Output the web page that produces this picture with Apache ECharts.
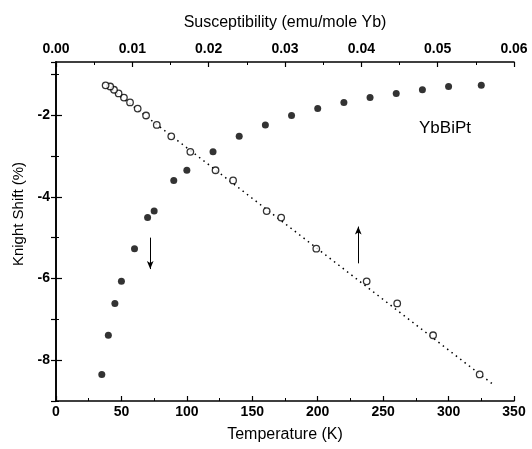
<!DOCTYPE html>
<html>
<head>
<meta charset="utf-8">
<script src="https://cdn.jsdelivr.net/npm/echarts@6/dist/echarts.min.js"></script>
<style>
  html, body { margin: 0; padding: 0; background: #fff; }
  #chart { width: 532px; height: 449px; }
</style>
</head>
<body>
<div id="chart"></div>
<script>
// measured temperatures (K) and Knight shift (%)
const temperature = [35, 40, 45, 50, 60, 70, 75, 90, 100, 120, 140, 160, 180, 200, 220, 240, 260, 280, 300, 325];
const knightShift = [-8.35, -7.39, -6.61, -6.07, -5.27, -4.51, -4.35, -3.60, -3.35, -2.90, -2.52, -2.24, -2.01, -1.84, -1.69, -1.57, -1.47, -1.38, -1.30, -1.27];
// susceptibility (emu/mole Yb) at the same temperatures
const susceptibility = [0.0555, 0.0494, 0.0447, 0.0407, 0.0341, 0.0295, 0.0276, 0.0232, 0.0209, 0.0176, 0.0151, 0.0132, 0.0118, 0.0107, 0.0097, 0.0089, 0.0082, 0.0076, 0.0071, 0.0065];

// dotted linear fit, end points
const fitChi = [0.0062, 0.0573];
const fitShift = [-1.22, -8.60];

// arrows telling which axis each set belongs to
const downArrow = { x: 72, from: -5.0, to: -5.77 };
const upArrow = { x: 0.0396, from: -5.63, to: -4.73 };

const yMajor = [-8, -6, -4, -2];
const yMinor = [-9, -7, -5, -3, -1];

const black = '#000';
const tickFont = { color: black, fontSize: 14, fontWeight: 'bold', fontFamily: 'Liberation Sans' };
const nameFont = { color: black, fontSize: 16, fontFamily: 'Liberation Sans' };
const frame = { show: true, lineStyle: { color: black, width: 1.6 } };

const chart = echarts.init(document.getElementById('chart'));

chart.setOption({
  animation: false,
  grid: { left: 56, right: 18, top: 62, bottom: 48 },
  xAxis: [
    {
      type: 'value', position: 'bottom', min: 0, max: 350, interval: 50,
      name: 'Temperature (K)', nameLocation: 'middle', nameGap: 26, nameTextStyle: nameFont,
      axisLine: frame,
      axisTick: { inside: true, length: 5, lineStyle: { color: black, width: 1.2 } },
      minorTick: { show: true, splitNumber: 2, length: 3, lineStyle: { color: black, width: 1 } },
      axisLabel: Object.assign({ margin: 4 }, tickFont),
      splitLine: { show: false }
    },
    {
      type: 'value', position: 'top', min: 0, max: 0.06, interval: 0.01,
      name: 'Susceptibility (emu/mole Yb)', nameLocation: 'middle', nameGap: 31, nameTextStyle: nameFont,
      axisLine: frame,
      axisTick: { inside: true, length: 5, lineStyle: { color: black, width: 1.2 } },
      minorTick: { show: true, splitNumber: 2, length: 3, lineStyle: { color: black, width: 1 } },
      axisLabel: Object.assign({ margin: 6, formatter: v => v.toFixed(2) }, tickFont),
      splitLine: { show: false }
    }
  ],
  yAxis: [
    {
      type: 'value', position: 'left', min: -9, max: -0.7,
      name: 'Knight Shift (%)', nameLocation: 'middle', nameGap: 28,
      nameTextStyle: Object.assign({ padding: [0, 0, 0, 35] }, nameFont, { fontSize: 15 }),
      axisLine: frame,
      axisTick: { inside: true, length: 6, customValues: yMajor, lineStyle: { color: black, width: 1.2 } },
      axisLabel: Object.assign({ margin: 6, customValues: yMajor }, tickFont),
      splitLine: { show: false }
    },
    {
      type: 'value', position: 'right', min: -9, max: -0.7, interval: 1,
      axisLine: frame,
      axisTick: { inside: true, length: 5, lineStyle: { color: black, width: 1.2 } },
      axisLabel: { show: false },
      splitLine: { show: false }
    },
    {
      type: 'value', position: 'left', min: -9, max: -0.7,
      axisLine: { show: false },
      axisTick: { inside: true, length: 3, customValues: yMinor, lineStyle: { color: black, width: 1 } },
      axisLabel: { show: false },
      splitLine: { show: false }
    }
  ],
  graphic: [
    {
      type: 'text', left: 419, top: 120,
      style: { text: 'YbBiPt', font: '17px "Liberation Sans"', fill: black }
    }
  ],
  series: [
    {
      name: 'K vs T', type: 'scatter', xAxisIndex: 0, yAxisIndex: 0,
      symbol: 'circle', symbolSize: 7,
      itemStyle: { color: black },
      data: temperature.map((t, i) => [t, knightShift[i]]),
      markLine: {
        silent: true, symbol: ['none', 'arrow'], symbolSize: [5, 8],
        label: { show: false },
        lineStyle: { color: black, width: 1, type: 'solid' },
        data: [[{ coord: [downArrow.x, downArrow.from] }, { coord: [downArrow.x, downArrow.to] }]]
      }
    },
    {
      name: 'fit', type: 'line', xAxisIndex: 1, yAxisIndex: 0,
      showSymbol: false, symbol: 'none',
      lineStyle: { color: black, width: 1.5, type: [1.5, 4] },
      data: fitChi.map((c, i) => [c, fitShift[i]]),
      z: 1
    },
    {
      name: 'K vs chi', type: 'scatter', xAxisIndex: 1, yAxisIndex: 0,
      symbol: 'circle', symbolSize: 6.5,
      itemStyle: { color: '#fff', borderColor: black, borderWidth: 1.3 },
      data: susceptibility.map((c, i) => [c, knightShift[i]]),
      z: 3,
      markLine: {
        silent: true, symbol: ['none', 'arrow'], symbolSize: [5, 8],
        label: { show: false },
        lineStyle: { color: black, width: 1, type: 'solid' },
        data: [[{ coord: [upArrow.x, upArrow.from] }, { coord: [upArrow.x, upArrow.to] }]]
      }
    }
  ]
});
</script>
</body>
</html>
